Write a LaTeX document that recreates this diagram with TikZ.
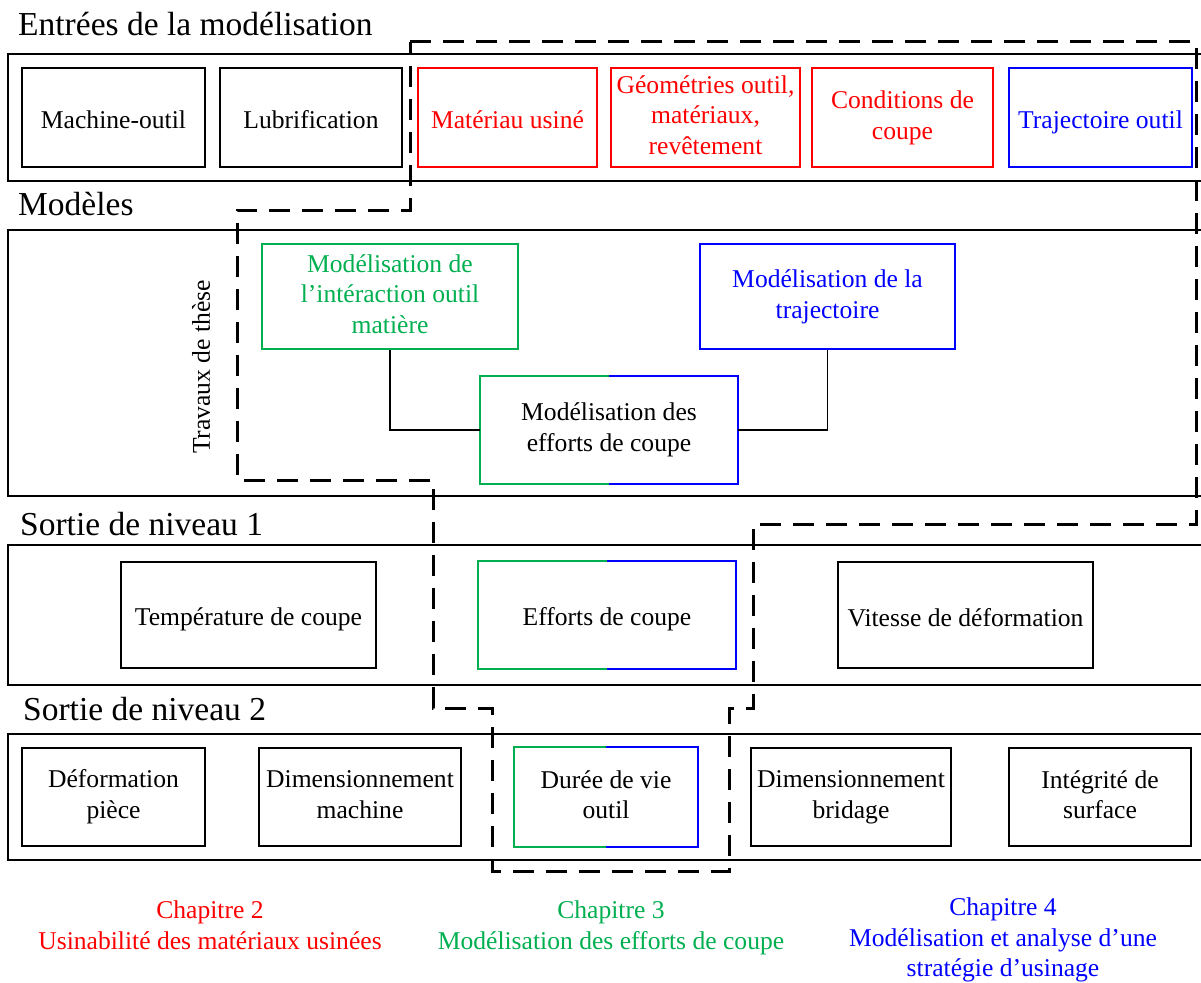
\documentclass[tikz,border=0pt]{standalone}
\usepackage{fontspec}
\setmainfont{Liberation Serif}
\definecolor{myred}{RGB}{255,0,0}
\definecolor{mygreen}{RGB}{0,176,80}
\definecolor{myblue}{RGB}{0,0,255}
\newcommand\boxstrut{\rule[-5pt]{0pt}{32pt}}
\tikzset{
  band/.style={draw=black, line width=1.6pt},
  box/.style={draw=black, line width=1.6pt, inner sep=2pt, align=center,
    font=\fontsize{25.6}{30.8}\selectfont,
    execute at begin node=\boxstrut, execute at end node=\boxstrut},
  redbox/.style={box, draw=myred, text=myred, line width=1.8pt},
  bluebox/.style={box, draw=myblue, text=myblue, line width=1.8pt},
  greenbox/.style={box, draw=mygreen, text=mygreen, line width=1.8pt},
  splitbox/.style={box, draw=none},
  title/.style={anchor=base west, inner sep=0pt, font=\fontsize{33.5}{38}\selectfont},
  chap/.style={anchor=north, inner sep=0pt, align=center, font=\fontsize{25.6}{30.5}\selectfont},
  link/.style={draw=black, line width=1.4pt},
  thesis/.style={draw=black, line width=3pt, dash pattern=on 21pt off 12pt},
}
\newcommand\splitborder[1]{%
  \draw[mygreen, line width=2pt] (#1.north) -- (#1.north west) -- (#1.south west) -- (#1.south);
  \draw[myblue, line width=2pt] (#1.north) -- (#1.north east) -- (#1.south east) -- (#1.south);}
\begin{document}
\begin{tikzpicture}[x=1pt, y=-1pt]
\useasboundingbox (0,0) rectangle (1201,982);
\clip (0,0) rectangle (1201,982);
\fill[white] (0,0) rectangle (1201,982);

% titles
\node[title] (t1) at (18,36) {Entrées de la modélisation};
\node[title] (t2) at (18,215) {Modèles};
\node[title] (t3) at (20,535) {Sortie de niveau 1};
\node[title] (t4) at (23,720) {Sortie de niveau 2};

% bands
\draw[band] (8,54) rectangle (1220,181);
\draw[band] (8,230) rectangle (1220,496);
\draw[band] (8,545) rectangle (1220,685);
\draw[band] (8,734) rectangle (1220,860);

% row 1
\node[box, minimum width=183pt, minimum height=99pt] (mo) at (113.5,117.5) {Machine-outil};
\node[box, minimum width=182pt, minimum height=99pt] (lub) at (311,117.5) {Lubrification};
\node[redbox, minimum width=179pt, minimum height=99pt] (mat) at (507.5,117.5) {Matériau usiné};
\node[redbox, minimum width=189pt, minimum height=99pt] (geo) at (705.5,117.5) {Géométries outil,\\matériaux,\\revêtement};
\node[redbox, minimum width=181pt, minimum height=99pt] (cond) at (902.5,117.5) {Conditions de\\coupe};
\node[bluebox, minimum width=183pt, minimum height=99pt] (traj) at (1100.5,117.5) {Trajectoire outil};

% row 2
\node[greenbox, minimum width=256pt, minimum height=105pt] (gmod) at (390,296.5) {Modélisation de\\l’intéraction outil\\matière};
\node[bluebox, minimum width=255pt, minimum height=105pt] (bmod) at (827.5,296.5) {Modélisation de la\\trajectoire};
\node[splitbox, minimum width=256pt, minimum height=106pt] (mec) at (609,430) {Modélisation des\\efforts de coupe};
\splitborder{mec}
\draw[link] (gmod.south) |- (mec.west);
\draw[link] (bmod.south) |- (mec.east);
\node[rotate=90, inner sep=0pt, font=\fontsize{25.6}{30.5}\selectfont] (tdt) at (201,367) {Travaux de thèse};

% row 3
\node[box, minimum width=255pt, minimum height=106pt] (temp) at (248.5,615) {Température de coupe};
\node[splitbox, minimum width=256pt, minimum height=106pt] (eff) at (607,615) {Efforts de coupe};
\splitborder{eff}
\node[box, minimum width=255pt, minimum height=106pt] (vit) at (965.5,615) {Vitesse de déformation};

% row 4
\node[box, minimum width=183pt, minimum height=98pt] (defo) at (113.5,797) {Déformation\\pièce};
\node[box, minimum width=202pt, minimum height=98pt] (dimm) at (360,797) {Dimensionnement\\machine};
\node[splitbox, minimum width=182pt, minimum height=98pt] (duree) at (606,797) {Durée de vie\\outil};
\splitborder{duree}
\node[box, minimum width=200pt, minimum height=98pt] (dimb) at (851,797) {Dimensionnement\\bridage};
\node[box, minimum width=182pt, minimum height=98pt] (integ) at (1100,797) {Intégrité de\\surface};

% thesis outline
\draw[thesis] (410,42) -- (1196,42) -- (1196,524) -- (753,524) -- (753,708)
  -- (729,708) -- (729,871) -- (492,871) -- (492,708) -- (433,708)
  -- (433,480) -- (237,480) -- (237,210) -- (410,210) -- cycle;

% chapters
\node[chap, text=myred] (ch2) at (210,901) {Chapitre 2\\Usinabilité des matériaux usinées};
\node[chap, text=mygreen] (ch3) at (611,901) {Chapitre 3\\Modélisation des efforts de coupe};
\node[chap, text=myblue] (ch4) at (1003,898) {Chapitre 4\\Modélisation et analyse d’une\\stratégie d’usinage};
\end{tikzpicture}
\end{document}
